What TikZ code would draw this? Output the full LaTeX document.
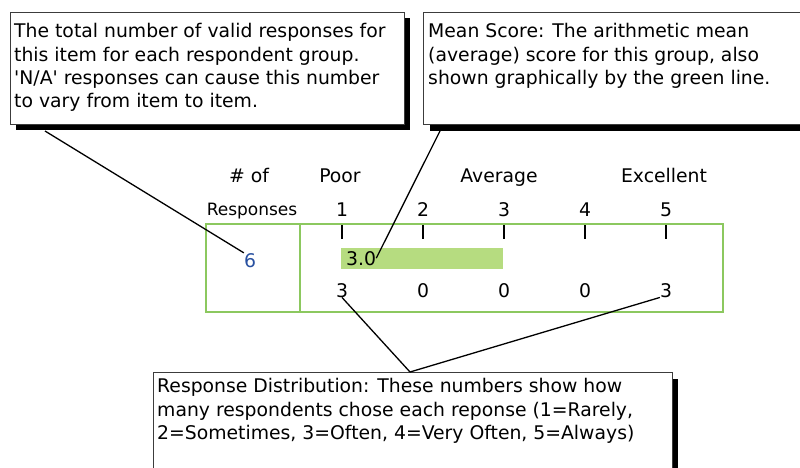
\documentclass[tikz,border=0pt]{standalone}
\usepackage{fontspec}
\setmainfont{DejaVu Sans}[Ligatures=TeXOff]
\definecolor{gline}{RGB}{140,200,95}
\definecolor{gbar}{RGB}{182,220,128}
\definecolor{nblue}{RGB}{40,80,160}
\definecolor{bord}{RGB}{60,60,60}
\begin{document}
\begin{tikzpicture}[x=1pt,y=-1pt,
  boxtext/.style={font=\fontsize{18.8}{23.3}\selectfont, inner sep=0, align=left, anchor=north west},
  lbl/.style={font=\fontsize{18.8}{23}\selectfont, inner sep=0, anchor=base},
  callbox/.style={draw=bord, line width=0.9pt, fill=white},
  shadowfill/.style={fill=black},
  conn/.style={draw=black, line width=1.3pt},
  tick/.style={draw=black, line width=1.5pt},
  frame/.style={draw=gline, line width=1.8pt}]
\clip (0,0) rectangle (800,468);
\fill[white] (0,0) rectangle (800,468);

% callout boxes with shadows
\fill[shadowfill] (16,18) rectangle (410,130);
\path[callbox] (10,12) rectangle (404,124);
\fill[shadowfill] (430,18) rectangle (812,131);
\path[callbox] (423,12) rectangle (806,124);
\fill[shadowfill] (159,379) rectangle (678,480);
\path[callbox] (153,372) rectangle (672,475);

\node[boxtext] (t1) at (14,23.5) {The total number of valid responses for\\this item for each respondent group.\\'N/A' responses can cause this number\\to vary from item to item.};
\node[boxtext] (t2) at (428,23.5) {Mean Score: The arithmetic mean\\(average) score for this group, also\\shown graphically by the green line.};
\node[boxtext] (t3) at (157,378.5) {Response Distribution: These numbers show how\\many respondents chose each reponse (1=Rarely,\\2=Sometimes, 3=Often, 4=Very Often, 5=Always)};

% table
\fill[gbar] (341,248) rectangle (503,269);
\path[frame] (206,224) rectangle (723,312);
\path[frame] (300,224) -- (300,312);

\node[lbl] (hof) at (249,182) {\# of};
\node[lbl, font=\fontsize{17}{20}\selectfont] (hresp) at (252,215) {Responses};
\node[lbl] (poor) at (340,182) {Poor};
\node[lbl] (avg) at (499,182) {Average};
\node[lbl] (exc) at (664,182) {Excellent};

\foreach \i/\x in {1/342,2/423,3/504,4/585,5/666}{
  \node[lbl] (s\i) at (\x,216) {\i};
  \path[tick] (\x,225) -- (\x,239);
}
\node[lbl, text=nblue] (six) at (250,267) {6};
\node[lbl, anchor=base west] (mean) at (346,265) {3.0};
\node[lbl] (c1) at (342,297) {3};
\node[lbl] (c2) at (423,297) {0};
\node[lbl] (c3) at (504,297) {0};
\node[lbl] (c4) at (585,297) {0};
\node[lbl] (c5) at (666,297) {3};

% connectors
\coordinate (p1) at (45,131);
\coordinate (p2) at (440,131);
\coordinate (p3) at (410,372);
\path[conn] (p1) -- (six.north west);
\path[conn] (p2) -- (mean.east);
\path[conn] (c1.south) -- (p3);
\path[conn] (c5.south west) -- (p3);
\end{tikzpicture}
\end{document}
